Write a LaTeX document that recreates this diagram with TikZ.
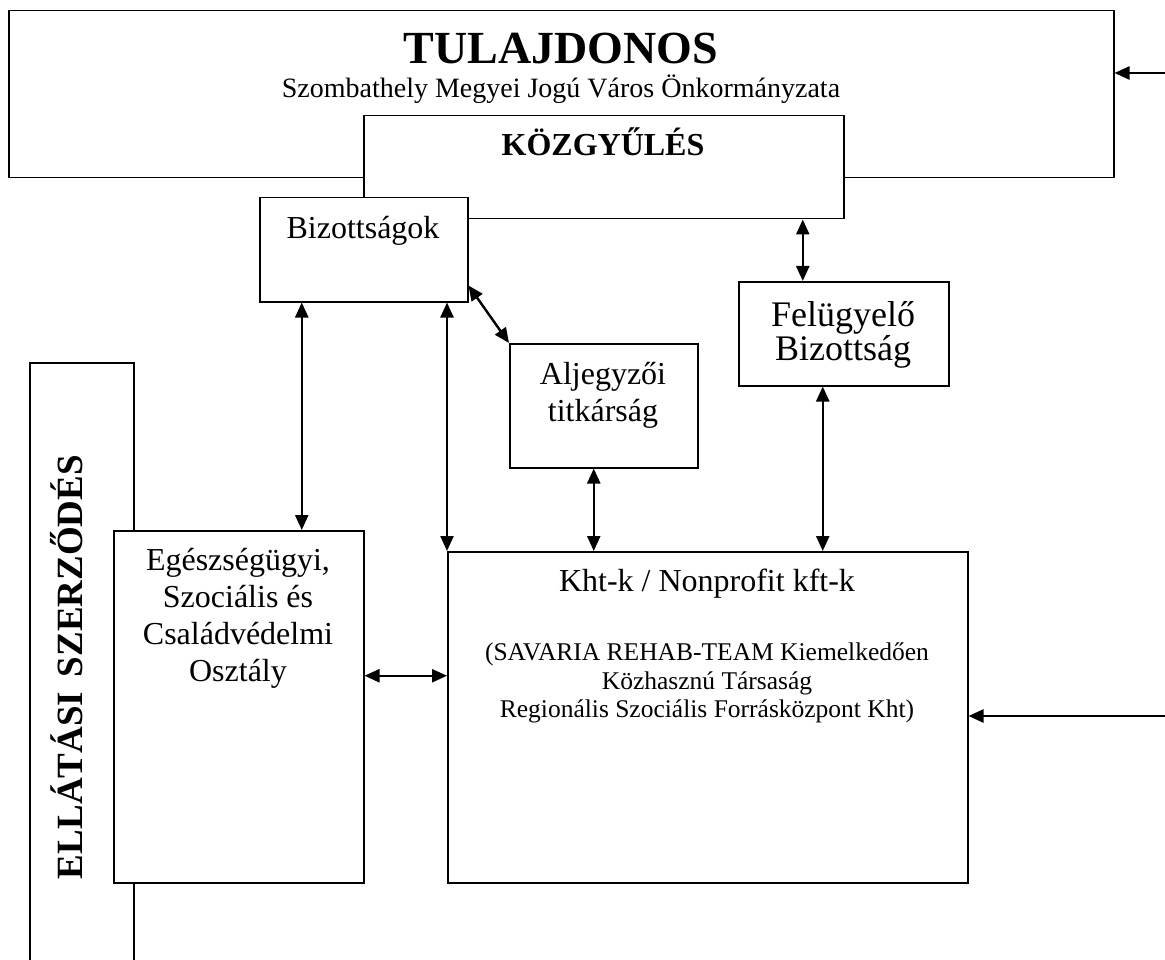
\documentclass[tikz,border=0pt]{standalone}
\usepackage{fontspec}
\setmainfont{Liberation Serif}
\usetikzlibrary{arrows.meta}
\tikzset{
  box/.style={draw, line width=1.5pt, fill=white, inner sep=0pt, anchor=north west},
  tip/.tip={Triangle[length=15pt,width=13pt]},
  arr/.style={line width=2.4pt, tip-tip},
  arrone/.style={line width=2.4pt, -tip},
  txt/.style={anchor=base, inner sep=0pt, font=\fontsize{32}{37}\selectfont},
  txtbig/.style={anchor=base, inner sep=0pt, font=\fontsize{36}{40}\selectfont},
  small/.style={anchor=base, inner sep=0pt, font=\fontsize{25.5}{29}\selectfont},
  sub/.style={anchor=base, inner sep=0pt, font=\fontsize{28}{32}\selectfont},
  bold/.style={anchor=base, inner sep=0pt, font=\bfseries\fontsize{#1}{#1}\selectfont},
}
\begin{document}
\begin{tikzpicture}[x=1pt,y=-1pt]
\useasboundingbox (0,0) rectangle (1165,960);
% owner box
\node[box, minimum width=1105pt, minimum height=167pt] (tul) at (8,10) {};
\node[bold=46] (tult) at (561,64) {TULAJDONOS};
\node[sub] (tuls) at (561,98) {Szombathely Megyei Jogú Város Önkormányzata};
% assembly
\node[box, minimum width=480pt, minimum height=103pt] (koz) at (363,115) {};
\node[bold=32] (kozt) at (603,156) {KÖZGYŰLÉS};
% committees
\node[box, minimum width=208pt, minimum height=104pt] (bizo) at (259,197) {};
\node[txt] (bizot) at (363,239) {Bizottságok};
% sub-notary
\node[box, minimum width=188pt, minimum height=124pt] (alj) at (509,343) {};
\node[txt] (aljt1) at (603,384) {Aljegyzői};
\node[txt] (aljt2) at (603,421) {titkárság};
% supervisory board
\node[box, minimum width=210pt, minimum height=104pt] (fel) at (738,281) {};
\node[txtbig] (felt1) at (843,326) {Felügyelő};
\node[txtbig] (felt2) at (843,360) {Bizottság};
% supply contract
\draw[line width=1.5pt] (30,960) -- (30,363) -- (134,363) -- (134,960);
\node[bold=37, rotate=90] (ell) at (82,667) {ELLÁTÁSI\hspace{0.15em} SZERZŐDÉS};
% department
\node[box, minimum width=250pt, minimum height=352pt] (egesz) at (113,530) {};
\node[txt] (eg1) at (238,570) {Egészségügyi,};
\node[txt] (eg2) at (238,607) {Szociális és};
\node[txt] (eg3) at (238,644) {Családvédelmi};
\node[txt] (eg4) at (238,681) {Osztály};
% companies
\node[box, minimum width=520pt, minimum height=331pt] (kht) at (447,551) {};
\node[txt] (kh1) at (707,591) {Kht-k / Nonprofit kft-k};
\node[small] (kh2) at (707,660) {(SAVARIA REHAB-TEAM Kiemelkedően};
\node[small] (kh3) at (707,689) {Közhasznú Társaság};
\node[small] (kh4) at (707,717) {Regionális Szociális Forrásközpont Kht)};
% connectors
\coordinate (r1) at (1165,73);
\coordinate (r2) at (1165,716);
\draw[arrone] (r1) -- (r1 -| tul.east);
\draw[arrone] (r2) -- (r2 -| kht.east);
\draw[arr] ([xshift=-41pt]fel.north) -- ([xshift=-41pt]fel.north |- koz.south);
\draw[arr] ([xshift=63pt]egesz.north) -- ([xshift=63pt]egesz.north |- bizo.south);
\draw[arr] (kht.north west) -- (kht.north west |- bizo.south);
\draw[arr] ([yshift=17pt]bizo.south east) -- (alj.north west);
\draw[arr] ([xshift=-10pt]alj.south) -- ([xshift=-10pt]alj.south |- kht.north);
\draw[arr] ([xshift=-21pt]fel.south) -- ([xshift=-21pt]fel.south |- kht.north);
\draw[arr] ([yshift=31pt]egesz.east) -- ([yshift=31pt]egesz.east -| kht.west);
\end{tikzpicture}
\end{document}
